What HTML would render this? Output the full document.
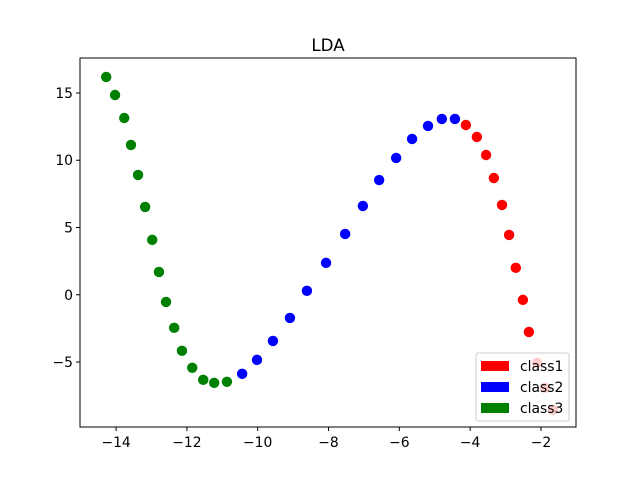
<!DOCTYPE html>
<html><head><meta charset="utf-8"><style>html,body{margin:0;padding:0;background:#fff}svg{display:block}text{font-family:"DejaVu Sans","Liberation Sans",sans-serif}</style></head>
<body>
<svg id="chart" width="640" height="480" viewBox="0 0 640 480" xmlns="http://www.w3.org/2000/svg">
<rect width="640" height="480" fill="#fff"/>
<text x="328" y="51" font-size="16.7" text-anchor="middle">LDA</text>
<g id="marks"></g>
<rect x="80" y="58" width="496" height="369" fill="none" stroke="#000" stroke-width="1"/>
<g id="ticks"></g>
<g>
<rect x="476" y="353" width="93" height="68" rx="2" fill="#fff" fill-opacity="0.8" stroke="#ccc" stroke-width="1"/>
<rect x="481" y="361" width="28" height="10" fill="#ff0000"/>
<text x="520" y="371" font-size="13.9">class1</text>
<rect x="481" y="382" width="28" height="10" fill="#0000ff"/>
<text x="520" y="392" font-size="13.9">class2</text>
<rect x="481" y="403" width="28" height="10" fill="#008000"/>
<text x="520" y="413" font-size="13.9">class3</text>
</g>
</svg>
<script>
const class1X = [-4.12,-3.81,-3.55,-3.33,-3.10,-2.90,-2.71,-2.51,-2.34,-2.11,-1.89,-1.66];
const class1Y = [12.62,11.73,10.39,8.68,6.68,4.45,2.00,-0.38,-2.76,-5.06,-6.92,-8.55];
const class2X = [-10.44,-10.02,-9.57,-9.09,-8.61,-8.07,-7.53,-7.03,-6.57,-6.09,-5.64,-5.19,-4.80,-4.43];
const class2Y = [-5.88,-4.84,-3.43,-1.72,0.29,2.37,4.52,6.60,8.53,10.17,11.58,12.55,13.07,13.07];
const class3X = [-14.28,-14.03,-13.77,-13.58,-13.38,-13.18,-12.98,-12.79,-12.59,-12.36,-12.14,-11.85,-11.54,-11.23,-10.87];
const class3Y = [16.19,14.85,13.14,11.14,8.91,6.53,4.08,1.70,-0.53,-2.46,-4.17,-5.43,-6.32,-6.55,-6.47];
const xTicks = [-14,-12,-10,-8,-6,-4,-2];
const yTicks = [-5,0,5,10,15];
const xMin=-15.02, xMax=-1.01, yMin=-9.83, yMax=17.6;
const L=80,R=576,T=58,B=427;
function sx(v){return L+(v-xMin)/(xMax-xMin)*(R-L);}
function sy(v){return B-(v-yMin)/(yMax-yMin)*(B-T);}
const NS="http://www.w3.org/2000/svg";
const marks=document.getElementById('marks');
function drawSeries(xs,ys,color,name){
  for(let i=0;i<xs.length;i++){
    const c=document.createElementNS(NS,'circle');
    c.setAttribute('cx',sx(xs[i]));c.setAttribute('cy',sy(ys[i]));
    c.setAttribute('r',5.2);c.setAttribute('fill',color);
    
    
    marks.appendChild(c);
  }
}
drawSeries(class1X,class1Y,'#ff0000','class1');
drawSeries(class2X,class2Y,'#0000ff','class2');
drawSeries(class3X,class3Y,'#008000','class3');
const ticks=document.getElementById('ticks');
xTicks.forEach(v=>{
  const x=sx(v);
  const l=document.createElementNS(NS,'line');
  l.setAttribute('x1',x);l.setAttribute('x2',x);l.setAttribute('y1',B);l.setAttribute('y2',B+4);l.setAttribute('stroke','#000');
  
  
  ticks.appendChild(l);
  const t=document.createElementNS(NS,'text');
  t.setAttribute('x',x);t.setAttribute('y',B+20);t.setAttribute('font-size','13.9');t.setAttribute('text-anchor','middle');
  t.textContent=(v<0?'\u2212':'')+Math.abs(v);
  
  
  ticks.appendChild(t);
});
yTicks.forEach(v=>{
  const y=sy(v);
  const l=document.createElementNS(NS,'line');
  l.setAttribute('x1',L-4);l.setAttribute('x2',L);l.setAttribute('y1',y);l.setAttribute('y2',y);l.setAttribute('stroke','#000');
  
  
  ticks.appendChild(l);
  const t=document.createElementNS(NS,'text');
  t.setAttribute('x',L-7);t.setAttribute('y',y+5);t.setAttribute('font-size','13.9');t.setAttribute('text-anchor','end');
  t.textContent=(v<0?'\u2212':'')+Math.abs(v);
  
  
  ticks.appendChild(t);
});
</script>
</body></html>
